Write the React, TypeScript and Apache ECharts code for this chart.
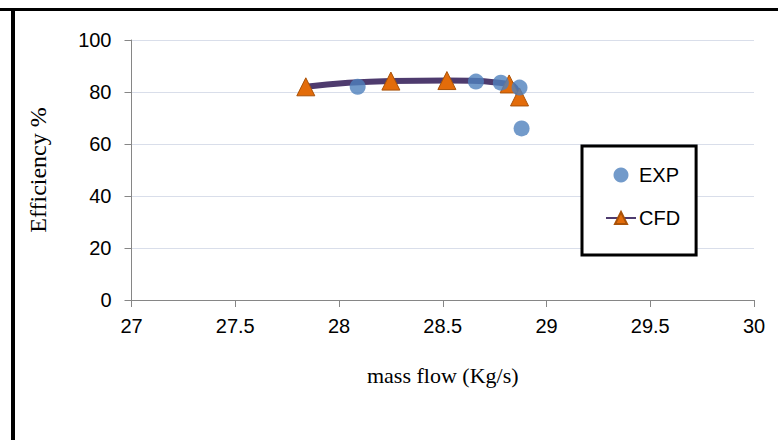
import React, { useEffect, useRef } from "react";
import * as echarts from "echarts";

const expFlow = [28.09, 28.66, 28.78, 28.87, 28.88];
const expEff = [82.0, 84.0, 83.6, 81.7, 66.0];
const cfdFlow = [27.84, 28.25, 28.52, 28.82, 28.87];
const cfdEff = [82.0, 84.2, 84.4, 83.1, 78.1];
const xTicks = [27, 27.5, 28, 28.5, 29, 29.5, 30];
const yTicks = [0, 20, 40, 60, 80, 100];

const tickFont = "'Liberation Sans', Arial, sans-serif";
const titleFont = "'Liberation Serif', 'Times New Roman', serif";

export default function App() {
  const ref = useRef<HTMLDivElement>(null);
  useEffect(() => {
    if (!ref.current) return;
    const chart = echarts.init(ref.current, null, { renderer: "svg" });
    chart.setOption({
      animation: false,
      backgroundColor: "#ffffff",
      grid: { left: 131.5, right: 24, top: 40, bottom: 140, containLabel: false },
      xAxis: {
        type: "value",
        min: xTicks[0],
        max: xTicks[xTicks.length - 1],
        interval: 0.5,
        name: "mass flow (Kg/s)",
        nameLocation: "middle",
        nameGap: 64,
        nameTextStyle: { fontFamily: titleFont, fontSize: 22, color: "#000" },
        axisLine: { show: true, lineStyle: { color: "#868686", width: 1 } },
        axisTick: { show: true, length: 7, lineStyle: { color: "#868686" } },
        axisLabel: {
          fontFamily: tickFont,
          fontSize: 20,
          color: "#000",
          margin: 16,
          formatter: (v: number) => String(v),
        },
        splitLine: { show: false },
      },
      yAxis: {
        type: "value",
        min: yTicks[0],
        max: yTicks[yTicks.length - 1],
        interval: 20,
        name: "Efficiency %",
        nameLocation: "middle",
        nameGap: 82,
        nameTextStyle: { fontFamily: titleFont, fontSize: 24, color: "#000" },
        axisLine: { show: true, lineStyle: { color: "#868686", width: 1 } },
        axisTick: { show: true, length: 7, lineStyle: { color: "#868686" } },
        axisLabel: { fontFamily: tickFont, fontSize: 20, color: "#000", margin: 20 },
        splitLine: { show: true, lineStyle: { color: "#D9DEEA", width: 1 } },
      },
      legend: {
        data: ["EXP", "CFD"],
        orient: "vertical",
        left: 582,
        top: 146,
        itemWidth: 30,
        itemHeight: 15,
        itemGap: 23,
        padding: [19, 16, 27, 23],
        borderColor: "#000",
        borderWidth: 3,
        borderRadius: 0,
        backgroundColor: "#fff",
        textStyle: { fontFamily: tickFont, fontSize: 20, color: "#000", padding: [0, 0, 0, -2] },
      },
      graphic: [
        { type: "line", shape: { x1: 0, y1: 9.5, x2: 778, y2: 9.5 }, style: { stroke: "#000", lineWidth: 3 } },
        { type: "line", shape: { x1: 13, y1: 8, x2: 13, y2: 440 }, style: { stroke: "#000", lineWidth: 4 } },
      ],
      series: [
        {
          name: "CFD",
          type: "line",
          smooth: true,
          data: cfdFlow.map((x, i) => [x, cfdEff[i]]),
          lineStyle: { color: "#4E3B6E", width: 6 },
          symbol: "triangle",
          symbolSize: 18,
          itemStyle: { color: "#E36C0A", borderColor: "#A95208", borderWidth: 1 },
          z: 2,
        },
        {
          name: "EXP",
          type: "scatter",
          data: expFlow.map((x, i) => [x, expEff[i]]),
          symbol: "circle",
          symbolSize: 16,
          itemStyle: { color: "#4F81BD" },
          z: 3,
        },
      ],
    });
    return () => chart.dispose();
  }, []);
  return (
    <div
      ref={ref}
      style={{ position: "fixed", left: 0, top: 0, width: 778, height: 440 }}
    />
  );
}
